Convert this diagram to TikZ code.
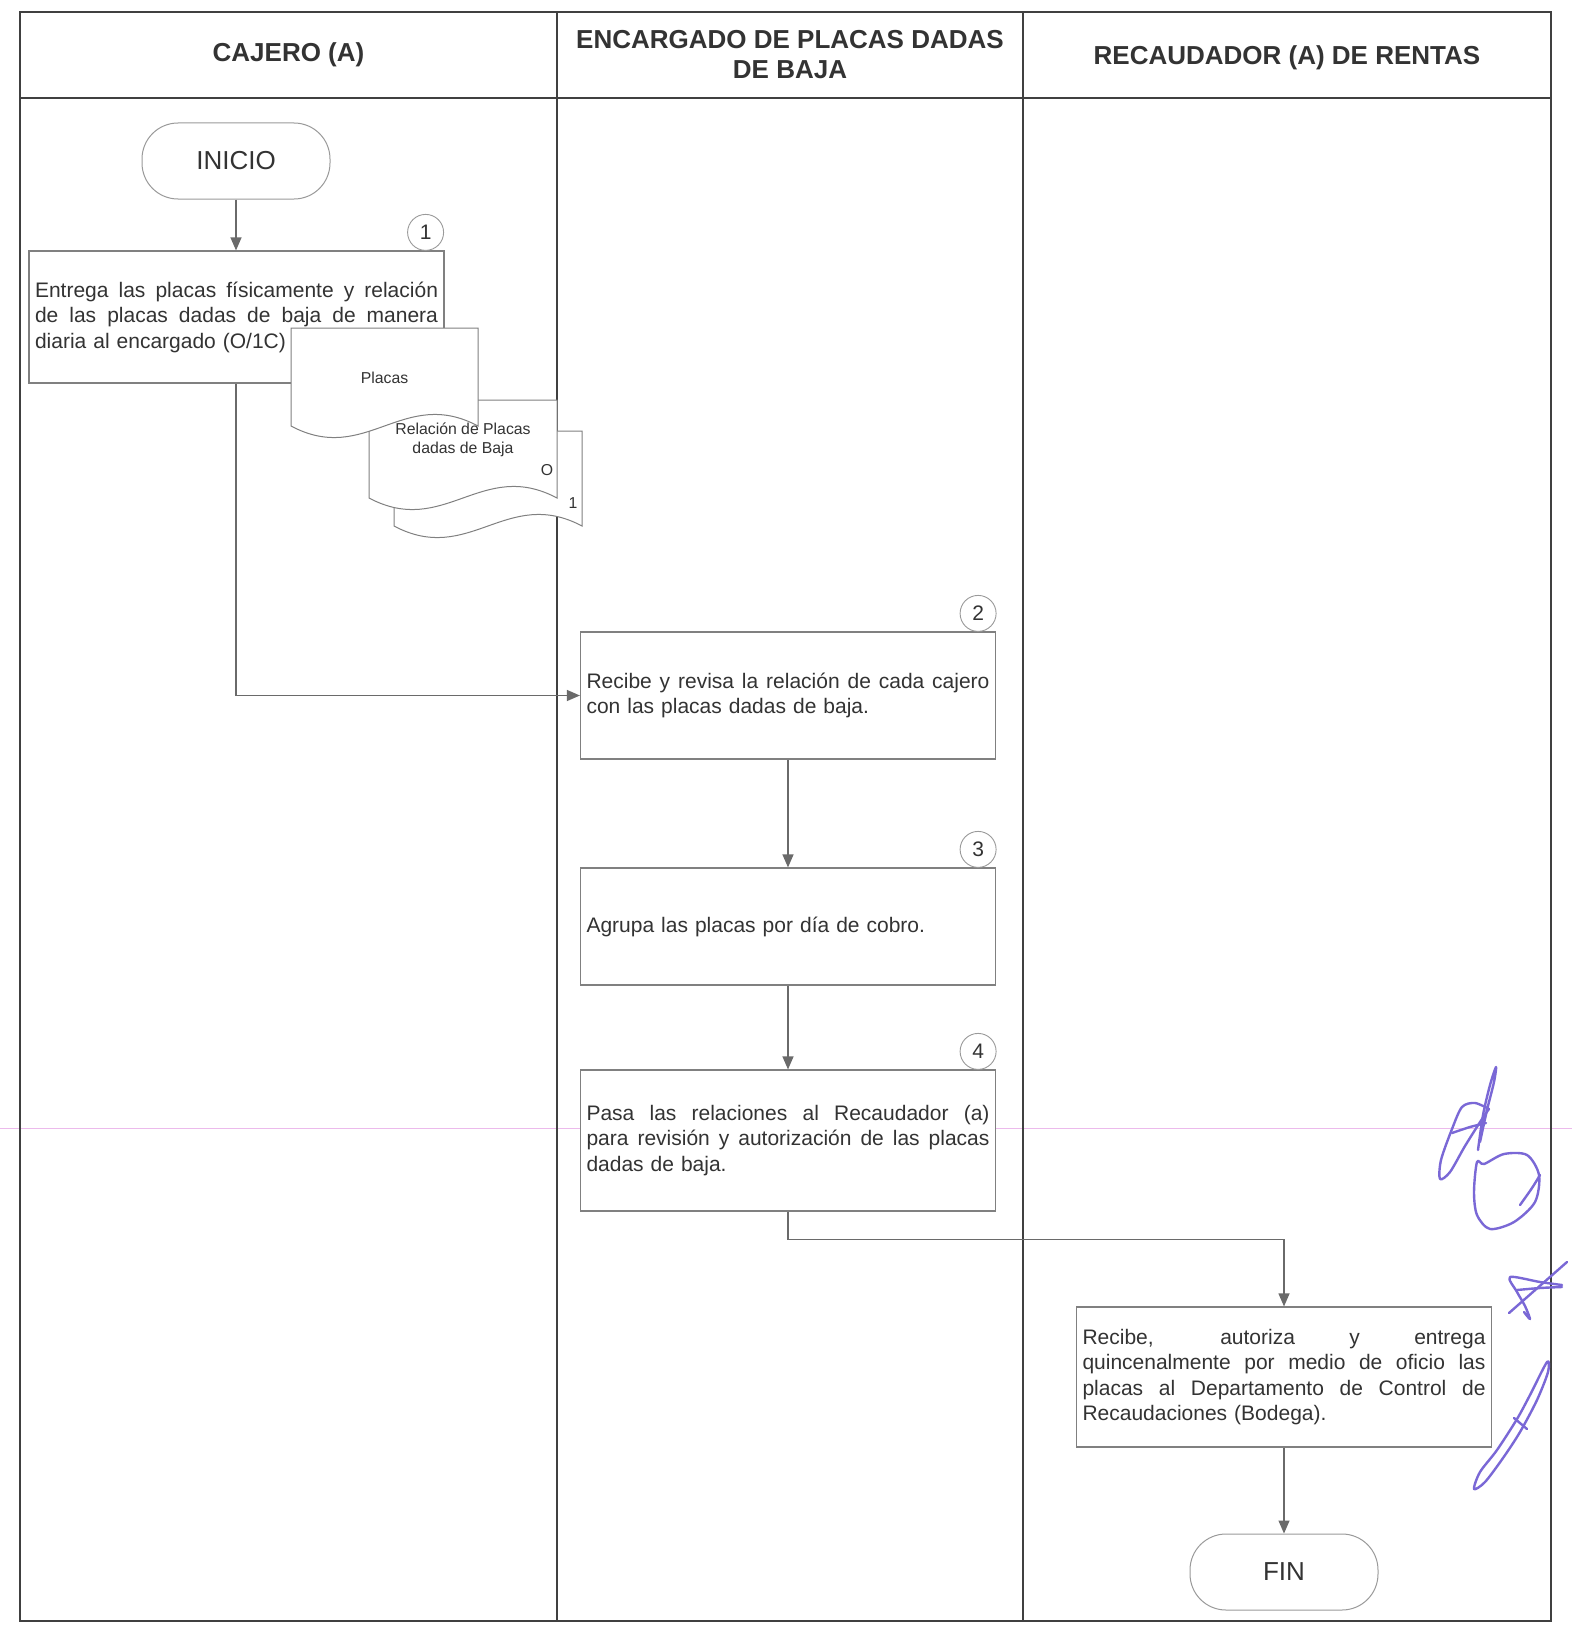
\documentclass[tikz,border=0pt]{standalone}
\usepackage{fontspec}
\setmainfont{Liberation Sans}
\usetikzlibrary{arrows.meta,calc}

\definecolor{lanec}{HTML}{404040}
\definecolor{boxc}{HTML}{808080}
\definecolor{linec}{HTML}{6A6A6A}
\definecolor{txtc}{HTML}{333333}
\definecolor{circc}{HTML}{9A9A9A}
\definecolor{sigc}{RGB}{122,104,214}
\definecolor{pinkc}{RGB}{236,186,236}

\newcommand{\myBody}{\fontsize{21}{25.5}\selectfont}
\newcommand{\myHdr}{\fontsize{26}{30}\selectfont\bfseries}
\newcommand{\myTerm}{\fontsize{26}{30}\selectfont}
\newcommand{\mySmall}{\fontsize{15.8}{19}\selectfont}
\newcommand{\jline}[1]{\leavevmode\hbox to 403pt{\spaceskip=0.278em plus 1fil\relax #1}\\}

\tikzset{
  lane/.style={draw=lanec, line width=2pt},
  procbox/.style={draw=boxc, line width=1.2pt, fill=white, text=txtc, font=\myBody,
    text width=403pt, inner xsep=6pt, inner ysep=4pt, minimum width=415pt, align=left},
  term/.style={draw=circc, line width=1pt, rounded corners=36pt, minimum width=188pt,
    minimum height=76pt, font=\myTerm, text=txtc, inner sep=0pt},
  numc/.style={circle, draw=circc, line width=0.9pt, minimum size=36pt, inner sep=0pt,
    font=\myBody, text=txtc},
  conn/.style={draw=linec, line width=1.2pt, -{Triangle[length=13pt,width=11pt]}},
  hdr/.style={font=\myHdr, text=txtc, align=center},
  docshape/.style={draw=boxc, line width=1pt, fill=white},
  doctext/.style={font=\mySmall, text=txtc, align=center, inner sep=0pt},
  sig/.style={draw=sigc, line width=2.4pt, line cap=round, line join=round}
}

\begin{document}
\begin{tikzpicture}[x=1pt,y=-1pt]
\useasboundingbox (0,0) rectangle (1572,1627);
\fill[white] (0,0) rectangle (1572,1627);

% faint scan line
\draw[pinkc, line width=1pt] (0,1128) -- (1572,1128);

% frame and lanes
\draw[lane] (20,12) rectangle (1551,1621);
\draw[lane] (20,98) -- (1551,98);
\draw[lane] (557,12) -- (557,1621);
\draw[lane] (1022.5,12) -- (1022.5,1621);

% headers
\node[hdr] (h1) at (288.5,55) {CAJERO (A)};
\node[hdr] (h2) at (790,55) {ENCARGADO DE PLACAS DADAS\\DE BAJA};
\node[hdr] (h3) at (1287,58) {RECAUDADOR (A) DE RENTAS};

% start
\node[term] (init) at (236,161) {INICIO};

% step 1
\node[procbox, minimum height=132pt] (b1) at (236.5,317)
  {\jline{Entrega las placas físicamente y relación}\jline{de las placas dadas de baja de manera}diaria al encargado (O/1C)};

% documents
\path[docshape] (582,431) -- (394,431) -- (394,526)
  .. controls (469.2,566) and (506.8,486) .. (582,526) -- cycle;
\path[docshape] (557,400) -- (369,400) -- (369,498)
  .. controls (444.2,538) and (481.8,458) .. (557,498) -- cycle;
\path[docshape] (478,328) -- (291,328) -- (291,426)
  .. controls (365.8,466) and (403.2,386) .. (478,426) -- cycle;
\node[doctext] (tplacas) at (384.5,378) {Placas};
\node[doctext] (trel) at (463,440) {Relación de Placas\\dadas de Baja};
\node[doctext] (to) at (547,470) {O};
\node[doctext] (tone) at (573,503) {1};

% steps 2-4
\node[procbox, minimum height=127pt] (b2) at (788,695.5)
  {\jline{Recibe y revisa la relación de cada cajero}con las placas dadas de baja.};
\node[procbox, minimum height=117pt] (b3) at (788,926.5)
  {Agrupa las placas por día de cobro.};
\node[procbox, minimum height=141pt] (b4) at (788,1140.5)
  {\jline{Pasa las relaciones al Recaudador (a)}\jline{para revisión y autorización de las placas}dadas de baja.};

% step 5
\node[procbox, minimum height=140pt] (b5) at (1284,1377)
  {\jline{Recibe, autoriza y entrega}\jline{quincenalmente por medio de oficio las}\jline{placas al Departamento de Control de}Recaudaciones (Bodega).};

% end
\node[term] (fin) at (1284,1572) {FIN};

% step numbers
\node[numc] (n1) at ($(b1.north east)+(-19,-18)$) {1};
\node[numc] (n2) at ($(b2.north east)+(-18,-18)$) {2};
\node[numc] (n3) at ($(b3.north east)+(-18,-18)$) {3};
\node[numc] (n4) at ($(b4.north east)+(-18,-18)$) {4};

% connectors
\draw[conn] (init.south) -- (init.south |- b1.north);
\draw[conn] (init.south |- b1.south) -- (init.south |- b2.west) -- (b2.west);
\draw[conn] (b2.south) -- (b3.north);
\draw[conn] (b3.south) -- (b4.north);
\draw[conn] (b4.south) -- ++(0,28) -| (b5.north);
\draw[conn] (b5.south) -- (fin.north);

% handwritten marks
\draw[sig] plot[smooth] coordinates {(1478,1150) (1483,1115) (1490,1085) (1496,1067) (1494,1082) (1487,1110) (1480,1142)};
\draw[sig] plot[smooth] coordinates {(1489,1109) (1475,1103) (1462,1107) (1452,1129) (1441,1160) (1440,1179) (1450,1172) (1465,1146) (1482,1119) (1489,1109)};
\draw[sig] plot[smooth] coordinates {(1452,1133) (1470,1127) (1486,1123)};
\draw[sig] plot[smooth cycle] coordinates {(1477,1162) (1474,1192) (1477,1215) (1490,1229) (1514,1222) (1535,1202) (1539,1175) (1527,1155) (1504,1154) (1484,1164)};
\draw[sig] plot[smooth] coordinates {(1520,1205) (1532,1188) (1540,1175)};
\draw[sig] plot[smooth] coordinates {(1562,1285) (1540,1282) (1510,1277) (1517,1292) (1525,1306) (1530,1319) (1524,1312)};
\draw[sig] plot[smooth] coordinates {(1517,1290) (1540,1288) (1562,1287)};
\draw[sig] (1509,1313) -- (1567,1262);
\draw[sig] plot[smooth cycle] coordinates {(1547,1362) (1530,1395) (1517,1419) (1497,1450) (1480,1472) (1474,1489) (1485,1482) (1503,1458) (1520,1432) (1537,1400) (1548,1372)};
\draw[sig] (1514,1418) -- (1527,1429);
\end{tikzpicture}
\end{document}
